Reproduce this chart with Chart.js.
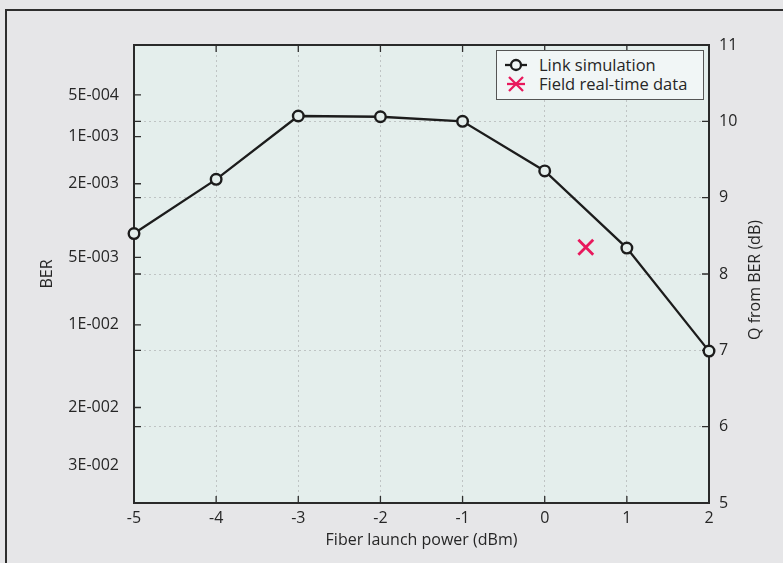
<!DOCTYPE html>
<html>
<head>
<meta charset="utf-8">
<script src="https://cdn.jsdelivr.net/npm/chart.js@4.4.0/dist/chart.umd.min.js"></script>
<style>
  body { margin: 0; background: #e6e6e8; font-family: "Open Sans", sans-serif; }
  #wrap { position: relative; width: 783px; height: 563px; overflow: hidden; }
  #frame { position: absolute; left: 5px; top: 9px; right: -4px; bottom: -4px;
           border-left: 2px solid #2e2e2e; border-top: 2px solid #2e2e2e; }
  #c { position: absolute; left: 0; top: 0; }
  #legend { position: absolute; left: 496px; top: 50px; width: 208px; height: 50px;
            background: #f1f6f6; border: 1px solid #555; padding: 4px 0 0 0; box-sizing: border-box;
            font-size: 16.5px; color: #262626; }
  .item { display: flex; align-items: center; height: 19px; line-height: 19px; }
  .item svg { margin: 0 10px 0 6px; }
</style>
</head>
<body>
<div id="wrap">
  <div id="frame"></div>
  <canvas id="c" width="783" height="563"></canvas>
  <div id="legend"></div>
</div>
<script>
// fiber launch power (dBm)
const power = [-5, -4, -3, -2, -1, 0, 1, 2];
// Q from BER (dB), link simulation
const qSim = [8.53, 9.24, 10.07, 10.06, 10.0, 9.35, 8.34, 6.99];
// field measurement
const fieldPower = [0.5];
const fieldQ = [8.35];

const xTicks = [-5, -4, -3, -2, -1, 0, 1, 2];
const qTicks = [5, 6, 7, 8, 9, 10, 11];
const berTicks = [5e-4, 1e-3, 2e-3, 5e-3, 1e-2, 2e-2, 3e-2];
const berLabels = ['5E-004', '1E-003', '2E-003', '5E-003', '1E-002', '2E-002', '3E-002'];

const textCol = '#262626';
const gridCol = '#bfc4c4';
const fieldCol = '#e8185c';

// erfc approximation (Abramowitz-Stegun 7.1.26)
function erfc(x) {
  const t = 1 / (1 + 0.3275911 * x);
  const p = t * (0.254829592 + t * (-0.284496736 + t * (1.421413741 + t * (-1.453152027 + t * 1.061405429))));
  return p * Math.exp(-x * x);
}
// BER -> Q in dB
function qdB(ber) {
  let lo = 0, hi = 10;
  for (let i = 0; i < 60; i++) {
    const mid = (lo + hi) / 2;
    if (0.5 * erfc(mid / Math.SQRT2) > ber) lo = mid; else hi = mid;
  }
  return 20 * Math.log10((lo + hi) / 2);
}

const plotDeco = {
  id: 'plotDeco',
  beforeDraw(chart) {
    const a = chart.chartArea, ctx = chart.ctx;
    ctx.save();
    ctx.fillStyle = '#e4eeec';
    ctx.fillRect(a.left, a.top, a.right - a.left, a.bottom - a.top);
    ctx.restore();
  },
  beforeDatasetsDraw(chart) {
    const a = chart.chartArea, ctx = chart.ctx;
    const sx = chart.scales.x, sq = chart.scales.y2, sb = chart.scales.y;
    const len = 7;
    ctx.save();
    ctx.strokeStyle = '#2e2e2e';
    ctx.lineWidth = 1.3;
    ctx.beginPath();
    xTicks.slice(1, -1).forEach(v => {
      const px = sx.getPixelForValue(v);
      ctx.moveTo(px, a.bottom); ctx.lineTo(px, a.bottom - len);
      ctx.moveTo(px, a.top); ctx.lineTo(px, a.top + len);
    });
    qTicks.slice(1, -1).forEach(v => {
      const py = sq.getPixelForValue(v);
      ctx.moveTo(a.right, py); ctx.lineTo(a.right - len, py);
      ctx.moveTo(a.left, py); ctx.lineTo(a.left + len, py);
    });
    // last BER label has no tick in the original
    berTicks.slice(0, -1).forEach(b => {
      const py = sb.getPixelForValue(qdB(b));
      ctx.moveTo(a.left, py); ctx.lineTo(a.left + len, py);
    });
    ctx.stroke();
    ctx.lineWidth = 2;
    ctx.strokeStyle = '#2a2a2a';
    ctx.strokeRect(a.left, a.top, a.right - a.left, a.bottom - a.top);
    // right axis title, reading bottom to top
    ctx.fillStyle = textCol;
    ctx.font = '16px "Open Sans"';
    ctx.textAlign = 'center';
    ctx.textBaseline = 'middle';
    ctx.translate(a.right + 46, (a.top + a.bottom) / 2 + 6);
    ctx.rotate(-Math.PI / 2);
    ctx.fillText('Q from BER (dB)', 0, 0);
    ctx.restore();
  }
};

const tickFont = { family: 'Open Sans', size: 16 };

const chart = new Chart(document.getElementById('c'), {
  type: 'line',
  data: {
    datasets: [{
      label: 'Link simulation',
      data: power.map((p, i) => ({ x: p, y: qSim[i] })),
      yAxisID: 'y2',
      borderColor: '#1c1c1c',
      borderWidth: 2.3,
      pointRadius: 5.3,
      pointBorderWidth: 2.4,
      pointBorderColor: '#1c1c1c',
      pointBackgroundColor: '#e4eeec',
      tension: 0,
      clip: false
    }, {
      label: 'Field real-time data',
      data: fieldPower.map((p, i) => ({ x: p, y: fieldQ[i] })),
      yAxisID: 'y2',
      showLine: false,
      pointStyle: 'crossRot',
      pointRadius: 10.5,
      pointBorderWidth: 2.8,
      pointBorderColor: fieldCol,
      borderColor: fieldCol,
      clip: false
    }]
  },
  options: {
    responsive: false,
    animation: false,
    devicePixelRatio: 1,
    layout: { padding: { top: 45, left: 0, right: 0, bottom: 0 } },
    plugins: { legend: { display: false }, tooltip: { enabled: false } },
    scales: {
      x: {
        type: 'linear', position: 'bottom', min: -5, max: 2,
        afterBuildTicks: s => { s.ticks = xTicks.map(v => ({ value: v })); },
        afterFit: s => { s.height = 60; },
        grid: { color: gridCol, lineWidth: 1, drawTicks: false },
        border: { display: false, dash: [2, 3] },
        ticks: { font: tickFont, color: textCol, padding: 6 },
        title: { display: true, text: 'Fiber launch power (dBm)', font: tickFont, color: textCol,
                 padding: { top: 0, bottom: 13 } }
      },
      y: {
        type: 'linear', position: 'left', min: 5, max: 11,
        afterBuildTicks: s => { s.ticks = berTicks.map(b => ({ value: qdB(b) })); },
        afterFit: s => { s.width = 134; },
        grid: { display: false, drawTicks: false },
        border: { display: false },
        ticks: { font: tickFont, color: textCol, padding: 15, autoSkip: false,
                 callback: (v, i) => berLabels[i] },
        title: { display: true, text: 'BER', font: tickFont, color: textCol,
                 padding: { top: 38, bottom: 0 } }
      },
      y2: {
        type: 'linear', position: 'right', min: 5, max: 11,
        afterBuildTicks: s => { s.ticks = qTicks.map(v => ({ value: v })); },
        afterFit: s => { s.width = 74; },
        grid: { color: gridCol, lineWidth: 1, drawTicks: false },
        border: { display: false, dash: [2, 3] },
        ticks: { font: tickFont, color: textCol, padding: 10 }
      }
    }
  },
  plugins: [plotDeco]
});

// legend box inside the plot, built from the datasets
const icons = [
  '<svg width="26" height="16"><line x1="2" y1="8" x2="24" y2="8" stroke="#1c1c1c" stroke-width="2.3"/>' +
  '<circle cx="13" cy="8" r="5" fill="#f1f6f6" stroke="#1c1c1c" stroke-width="2.3"/></svg>',
  '<svg width="26" height="16"><g stroke="' + fieldCol + '" stroke-width="2.3">' +
  '<line x1="6" y1="1" x2="20" y2="15"/><line x1="6" y1="15" x2="20" y2="1"/><line x1="4" y1="8" x2="22" y2="8"/></g></svg>'
];
document.getElementById('legend').innerHTML = chart.data.datasets
  .map((d, i) => '<div class="item">' + icons[i] + '<span>' + d.label + '</span></div>').join('');
</script>
</body>
</html>
